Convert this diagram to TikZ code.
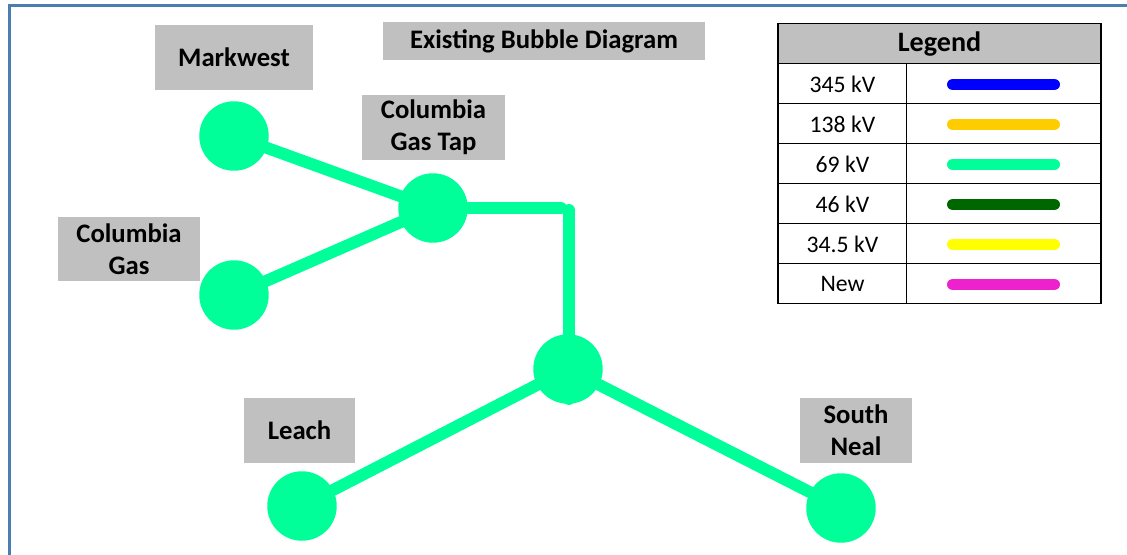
\documentclass[tikz,border=0pt]{standalone}
\usepackage{fontspec}
\setmainfont{Carlito}

\definecolor{frameblue}{HTML}{4A7EB0}
\definecolor{labelgray}{HTML}{C0C0C0}
\definecolor{volt345}{HTML}{0000FF}
\definecolor{volt138}{HTML}{FFCC00}
\definecolor{volt69}{HTML}{00FF99}
\definecolor{volt46}{HTML}{006600}
\definecolor{volt34}{HTML}{FFFF00}
\definecolor{voltnew}{HTML}{EE22CC}

\tikzset{
  tag/.style={fill=labelgray, inner sep=0pt, minimum height=1.3cm, align=center,
    font=\fontsize{15.2}{18.2}\selectfont\bfseries},
  bus/.style={circle, fill=volt69, inner sep=0pt, minimum size=1.39cm},
  feeder/.style={volt69, line width=6.8pt, line cap=round},
  swatch/.style={line width=6.8pt, line cap=round},
  keytext/.style={font=\fontsize{13.5}{16}\selectfont},
  grid line/.style={line width=0.6pt}
}

\begin{document}
\begin{tikzpicture}[x=0.02cm, y=-0.02cm]

\useasboundingbox (0,0) rectangle (1127,555);
\draw [frameblue, line width=1.7pt] (9.5,565) -- (9.5,5.5) -- (1135,5.5);

% labels
\node [tag, minimum width=6.44cm, minimum height=0.76cm] (title) at (544,41) {Existing Bubble Diagram};
\node [tag, minimum width=3.16cm] (markwestlabel) at (234,57.5) {Markwest};
\node [tag, minimum width=2.86cm] (taplabel) at (433.5,127.5) {Columbia\\Gas Tap};
\node [tag, minimum width=2.84cm] (gaslabel) at (129,249) {Columbia\\Gas};
\node [tag, minimum width=2.22cm] (leachlabel) at (299.5,430.5) {Leach};
\node [tag, minimum width=2.24cm] (neallabel) at (856,430.5) {South\\Neal};

% buses
\node [bus] (markwest) at (234,136) {};
\node [bus] (gas) at (234,295) {};
\node [bus] (tap) at (433,208) {};
\node [bus] (hub) at (568,369) {};
\node [bus] (leach) at (302,506) {};
\node [bus] (neal) at (841,508) {};

\coordinate (tapend) at (561,208);
\coordinate (drop) at (569,210);
\coordinate (dropend) at (569,399);

% 69 kV lines
\draw [feeder] (markwest) -- (tap);
\draw [feeder] (gas) -- (tap);
\draw [feeder] (tap) -- (tapend);
\draw [feeder] (drop) -- (dropend);
\draw [feeder] (hub) -- (leach);
\draw [feeder] (hub) -- (neal);

% legend
\draw [grid line, fill=labelgray] (778,23.3) rectangle (1101,63.3);
\node [font=\fontsize{16}{19}\selectfont\bfseries] (legendtitle) at (939.5,44.5) {Legend};
\foreach \volt/\col [count=\i] in {345 kV/volt345, 138 kV/volt138, 69 kV/volt69,
    46 kV/volt46, 34.5 kV/volt34, New/voltnew} {
  \draw [grid line] (778,23.3+40*\i) rectangle (906.7,63.3+40*\i);
  \draw [grid line] (906.7,23.3+40*\i) rectangle (1101,63.3+40*\i);
  \node [keytext] (key\i) at (842.5,44+40*\i) {\volt};
  \draw [swatch, \col] (953,44.5+40*\i) -- (1054,44.5+40*\i);
}

\end{tikzpicture}
\end{document}
